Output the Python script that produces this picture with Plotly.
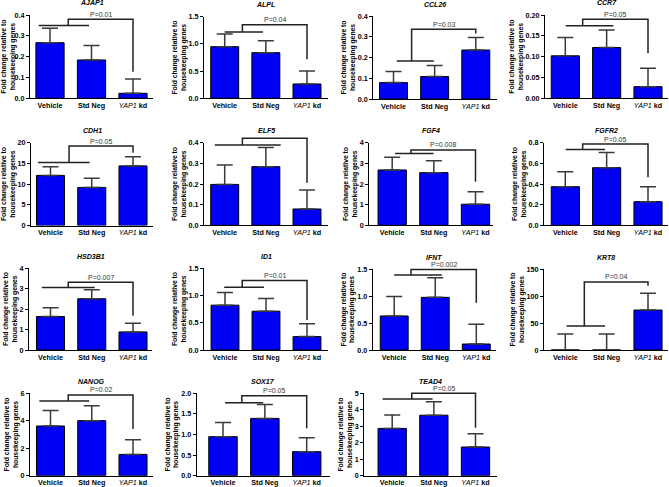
import plotly.graph_objects as go

W, H = 669, 487

genes = ["AJAP1", "ALPL", "CCL26", "CCR7", "CDH1", "ELF5", "FGF4", "FGFR2",
         "HSD3B1", "ID1", "IFNT", "KRT8", "NANOG", "SOX17", "TEAD4"]
groups = ["Vehicle", "Std Neg", "<span style='font-weight:normal'><i>YAP1</i></span> kd"]

vehicle_mean = [0.267, 0.949, 0.079, 0.102, 12.1, 0.198, 2.68, 0.374, 1.63, 0.82, 0.63, 0.0, 3.62, 0.947, 2.87]
stdneg_mean = [0.184, 0.839, 0.108, 0.122, 9.2, 0.284, 2.55, 0.558, 2.50, 0.71, 0.975, 0.0, 4.01, 1.39, 3.67]
yap1kd_mean = [0.024, 0.263, 0.236, 0.028, 14.4, 0.079, 1.02, 0.229, 0.88, 0.245, 0.111, 74.0, 1.55, 0.583, 1.74]

vehicle_err = [0.069, 0.231, 0.054, 0.044, 2.1, 0.094, 0.61, 0.145, 0.43, 0.23, 0.36, 29.6, 1.12, 0.343, 0.82]
stdneg_err = [0.070, 0.221, 0.054, 0.042, 2.2, 0.093, 0.58, 0.148, 0.44, 0.23, 0.365, 29.6, 1.09, 0.34, 0.82]
yap1kd_err = [0.069, 0.237, 0.060, 0.044, 2.2, 0.092, 0.61, 0.145, 0.43, 0.233, 0.364, 31.0, 1.07, 0.34, 0.80]

p_labels = ["P=0.01", "P=0.04", "P=0.03", "P=0.05", "P=0.05", "P=0.02", "P=0.008", "P=0.05",
            "P=0.007", "P=0.01", "P=0.002", "P=0.04", "P=0.02", "P=0.05", "P=0.05"]

y_max = [0.4, 1.5, 0.4, 0.20, 20, 0.4, 4, 0.8, 4, 1.5, 1.5, 150, 6, 2.0, 5]
y_step = [0.1, 0.5, 0.1, 0.05, 5, 0.1, 1, 0.2, 1, 0.5, 0.5, 50, 2, 0.5, 1]
y_fmt = [".1f", ".1f", ".1f", ".2f", "d", ".1f", "d", ".1f", "d", ".1f", ".1f", "d", "d", ".1f", "d"]

# significance bracket levels (data units)
bracket_group_y = [0.35, 1.22, 0.183, 0.174, 15.2, 0.389, 3.48, 0.735, 3.05, 1.15, 1.39, 44.4, 5.44, 1.77, 4.65]
bracket_top_y = [0.379, 1.35, 0.336, 0.19, 19.2, 0.421, 3.65, 0.787, 3.30, 1.27, 1.49, 126, 5.88, 1.94, 5.0]
bracket_drop_y = [0.128, 0.716, 0.316, 0.108, 17.6, 0.206, 2.11, 0.465, 1.67, 0.55, 0.877, 119, 3.40, 1.15, 2.91]
bracket_x0 = [-0.27, 0.0, 0.08, 0.01, -0.3, -0.24, 0.07, 0.01, -0.21, -0.02, 0.0, 0.03, -0.27, 0.05, -0.23]
bracket_x1 = [0.94, 0.93, 0.98, 1.16, 0.95, 1.36, 0.99, 0.96, 1.07, 0.95, 1.16, 0.96, 0.94, 0.96, 0.97]
bracket_xv = [0.44, 0.43, 0.44, 0.42, 0.45, 0.43, 0.45, 0.42, 0.43, 0.42, 0.41, 0.46, 0.43, 0.45, 0.47]

# panel pixel layout: axis left, axis right, first-bar centre, last-bar centre, top, bottom
boxes = [
    (30, 153, 50, 133, 15, 98.3), (204, 327.7, 224.7, 307, 16.7, 98.3),
    (373.3, 496.7, 393.5, 475.8, 16, 99), (545, 668, 565.3, 648, 15, 98.3),
    (31, 153, 50.5, 133, 142.7, 225.5), (204, 328, 224.7, 307, 142.7, 225.3),
    (369.3, 493, 392.2, 475.5, 142.7, 225.3), (544, 668, 565.3, 648, 142.7, 225.3),
    (29, 152, 50.5, 133, 268, 350), (204, 328, 225, 307, 268, 350),
    (372.7, 495.7, 394.2, 476.3, 269, 350), (544, 668, 565.3, 648, 269, 350),
    (30, 153, 50.5, 133, 393.3, 475.7), (196.7, 330, 223, 306.7, 393.3, 475.7),
    (364.3, 496.7, 392.2, 475.5, 393.3, 475.7),
]
EXT = 20  # extra px above each panel where brackets may be drawn

FONT = "Liberation Sans, Arial, sans-serif"
BLUE = "#0000f5"
GREY = "#3a3a3a"
N = len(genes)

fig = go.Figure()
layout = dict(
    width=W, height=H, margin=dict(l=0, r=0, t=0, b=0),
    paper_bgcolor="white", plot_bgcolor="rgba(0,0,0,0)", showlegend=False,
    font=dict(family=FONT, size=7, color="black"),
)
annotations = []

for i, g in enumerate(genes):
    n = i + 1
    xa = "x" if n == 1 else f"x{n}"
    ya = "y" if n == 1 else f"y{n}"
    yb_name = f"y{n + N}"
    xkey = "xaxis" if n == 1 else f"xaxis{n}"
    ykey = "yaxis" if n == 1 else f"yaxis{n}"
    ybkey = f"yaxis{n + N}"
    L, R, c0, c2, yt, yb = boxes[i]
    s = (c2 - c0) / 2.0
    xr = [(L - c0) / s, (R - c0) / s]
    ext = min(EXT, yt)
    means = [vehicle_mean[i], stdneg_mean[i], yap1kd_mean[i]]
    errs = [vehicle_err[i], stdneg_err[i], yap1kd_err[i]]
    fig.add_trace(go.Bar(
        x=[0, 1, 2], y=means, width=0.68,
        marker=dict(color=BLUE, line=dict(color="black", width=1)),
        error_y=dict(type="data", symmetric=False, array=errs, arrayminus=[0, 0, 0],
                     color=GREY, thickness=1.5, width=8),
        xaxis=xa, yaxis=ya, hoverinfo="skip",
    ))
    bx = [bracket_x0[i], bracket_x1[i], None, bracket_xv[i], bracket_xv[i], 2, 2]
    by = [bracket_group_y[i], bracket_group_y[i], None, bracket_group_y[i], bracket_top_y[i],
          bracket_top_y[i], bracket_drop_y[i]]
    fig.add_trace(go.Scatter(
        x=bx, y=by, mode="lines", line=dict(color="#222222", width=1.5),
        cliponaxis=False, xaxis=xa, yaxis=yb_name, hoverinfo="skip",
    ))
    layout[xkey] = dict(
        domain=[L / W, R / W], anchor=ya, range=xr, automargin=False,
        tickmode="array", tickvals=[0, 1, 2], ticktext=groups,
        showline=True, linecolor="black", linewidth=1, ticks="",
        showgrid=False, zeroline=False,
        tickfont=dict(family=FONT, size=7.2, color="black", weight="bold"),
    )
    layout[ykey] = dict(
        domain=[1 - yb / H, 1 - yt / H], anchor=xa, range=[0, y_max[i]], automargin=False,
        dtick=y_step[i], tick0=0, tickformat=y_fmt[i],
        showline=True, linecolor="black", linewidth=1, ticks="outside", ticklen=3,
        tickcolor="black", tickwidth=1, showgrid=False, zeroline=False,
        tickfont=dict(family=FONT, size=7.2, color="black", weight="bold"),
        title=dict(text="Fold change relative to<br>housekeeping genes",
                   font=dict(family=FONT, size=6.8, color="black", weight="bold"), standoff=1),
    )
    # invisible companion axis with the same scale, extended upward, for brackets
    layout[ybkey] = dict(
        domain=[1 - yb / H, 1 - (yt - ext) / H], anchor=xa, automargin=False,
        range=[0, y_max[i] * (yb - yt + ext) / (yb - yt)], visible=False,
    )
    annotations.append(dict(
        text=f"<b><i>{g}</i></b>", xref=f"{xa} domain", yref=f"{ya} domain",
        x=0.5, y=1, yshift=12, showarrow=False, xanchor="center", yanchor="middle",
        font=dict(family=FONT, size=7, color="black"),
    ))
    annotations.append(dict(
        text=p_labels[i], xref=xa, yref=ya, x=(bracket_xv[i] + 2) / 2, y=bracket_top_y[i],
        yshift=5, showarrow=False, xanchor="center", yanchor="middle",
        font=dict(family=FONT, size=7, color="#333333"),
    ))

layout["annotations"] = annotations
fig.update_layout(**layout)
fig.write_html("out.html", config={"displayModeBar": False},
               post_script="document.body.style.margin='0px';")
